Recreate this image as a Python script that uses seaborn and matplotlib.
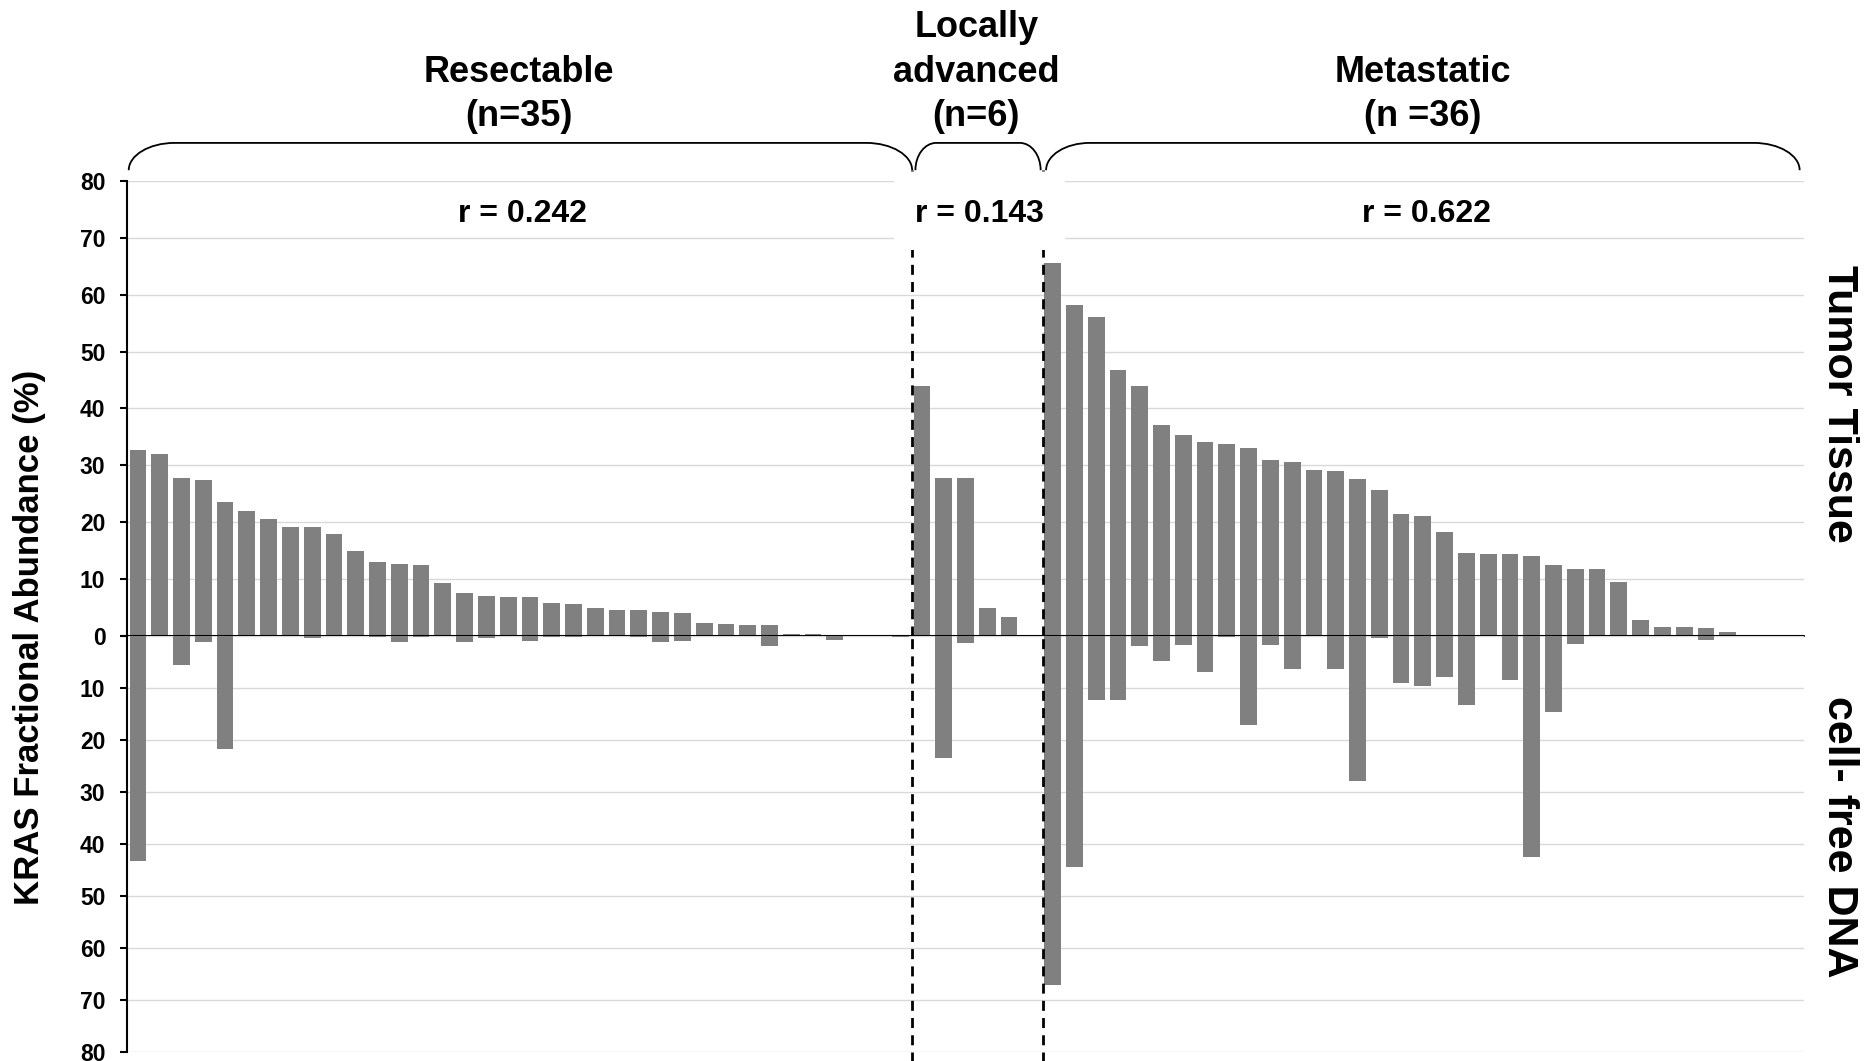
import matplotlib
matplotlib.use('Agg')
import matplotlib.pyplot as plt
from matplotlib import font_manager
from matplotlib.path import Path
from matplotlib.patches import PathPatch
from matplotlib.transforms import blended_transform_factory
import pandas as pd
import seaborn as sns

# KRAS fractional abundance (%) per patient.
# Tumor tissue goes up, cell-free DNA goes down.
resectable_tissue = [32.7, 32.0, 27.7, 27.4, 23.6, 21.9, 20.6, 19.2, 19.2, 17.9,
                     14.9, 13.0, 12.7, 12.4, 9.3, 7.6, 7.0, 6.8, 6.8, 5.7,
                     5.5, 4.9, 4.6, 4.5, 4.2, 4.0, 2.2, 2.1, 1.9, 1.8,
                     0.3, 0.3, 0, 0, 0, 0]
resectable_cfdna = [43.3, 0, 5.6, 1.2, 21.7, 0, 0, 0, 0.4, 0,
                    0, 0.2, 1.2, 0.2, 0, 1.2, 0.4, 0, 1.0, 0.2,
                    0.2, 0, 0, 0.2, 1.2, 0.9, 0, 0, 0, 2.0,
                    0, 0, 0.7, 0, 0, 0.2]

locally_tissue = [44.0, 27.8, 27.8, 4.9, 3.3, 0]
locally_cfdna = [0, 23.5, 1.4, 0, 0, 0]

metastatic_tissue = [65.6, 58.2, 56.1, 46.8, 44.0, 37.1, 35.3, 34.1, 33.7, 33.1,
                     31.0, 30.5, 29.2, 29.0, 27.6, 25.7, 21.4, 21.0, 18.2, 14.6,
                     14.4, 14.4, 14.0, 12.4, 11.7, 11.7, 9.4, 2.7, 1.6, 1.5,
                     1.3, 0.6, 0, 0, 0]
metastatic_cfdna = [67.1, 44.4, 12.4, 12.3, 1.9, 4.8, 1.8, 7.0, 0.1, 17.1,
                    1.8, 6.4, 0, 6.3, 27.9, 0.3, 9.1, 9.7, 7.9, 13.3,
                    0, 8.5, 42.5, 14.6, 1.5, 0, 0, 0, 0, 0,
                    0.7, 0, 0, 0, 0]

group_titles = [['Resectable', '(n=35)'],
                ['Locally', 'advanced', '(n=6)'],
                ['Metastatic', '(n =36)']]
r_labels = ['r = 0.242', 'r = 0.143', 'r = 0.622']
y_ticks = [0, 10, 20, 30, 40, 50, 60, 70, 80]

tissue = resectable_tissue + locally_tissue + metastatic_tissue
cfdna = resectable_cfdna + locally_cfdna + metastatic_cfdna
sizes = [len(resectable_tissue), len(locally_tissue), len(metastatic_tissue)]
df = pd.DataFrame({'slot': range(len(tissue)), 'tissue': tissue, 'cfdna': cfdna})

sns.set_theme(style='white')
names = {f.name for f in font_manager.fontManager.ttflist}
plt.rcParams['font.family'] = ['Liberation Sans', 'DejaVu Sans']
plt.rcParams['font.weight'] = 'bold'
plt.rcParams['text.color'] = 'black'
plt.rcParams['ytick.color'] = 'black'
plt.rcParams['ytick.labelcolor'] = 'black'
narrow = 'Liberation Sans Narrow' in names

W, H = 1872, 1061
fig = plt.figure(figsize=(W / 100, H / 100), dpi=100)
left, right = 127 / W, 1804 / W
ax_top = fig.add_axes([left, 1 - 635.7 / H, right - left, (635.7 - 181) / H])
ax_bot = fig.add_axes([left, 1 - 1051.7 / H, right - left, (1051.7 - 636) / H])

bar_kw = dict(color='#808080', width=0.77, linewidth=0, saturation=1, errorbar=None)
sns.barplot(data=df, x='slot', y='tissue', ax=ax_top, **bar_kw)
sns.barplot(data=df, x='slot', y='cfdna', ax=ax_bot, **bar_kw)

n = len(tissue)
for ax in (ax_top, ax_bot):
    ax.set_xlim(-0.5, n - 0.5)
    ax.set_xlabel('')
    ax.set_ylabel('')
    ax.set_xticks([])
    for s in ('top', 'right', 'bottom'):
        ax.spines[s].set_visible(False)
    ax.spines['left'].set_linewidth(1.5)
    ax.spines['left'].set_color('black')
    ax.set_yticks(y_ticks)
    ax.yaxis.grid(True, color='#d9d9d9', linewidth=1.0)
    ax.set_axisbelow(True)
    ax.tick_params(axis='y', left=True, length=5, width=1.5, color='black',
                   labelcolor='black', pad=10.5, labelsize=16.5)
    for lab in ax.get_yticklabels():
        lab.set_fontweight('bold')

ax_top.set_ylim(0, 80)
ax_bot.set_ylim(80, 0)
ax_bot.set_yticklabels([''] + [str(t) for t in y_ticks[1:]], fontweight='bold')
ax_top.axhline(0, color='black', linewidth=1.5, zorder=4, clip_on=False)

# dashed separators between the stages
bounds = [sizes[0] - 0.5, sizes[0] + sizes[1] - 0.5]
dash = dict(color='black', linewidth=2.0, linestyle=(0, (3.6, 2.6)), clip_on=False, zorder=5)
for b in bounds:
    ax_top.axvline(b + 0.05, ymin=0, ymax=1.024, **dash)
    ax_bot.axvline(b + 0.05, ymin=-0.025, ymax=1, **dash)


def bracket(ax, x0, x1, c0, c1, y_end=81.9, y_top=86.7):
    k = 0.55
    dy = y_top - y_end
    verts = [(x0, y_end), (x0, y_end + k * dy), (x0 + c0 * (1 - k), y_top), (x0 + c0, y_top),
             (x1 - c1, y_top),
             (x1 - c1 * (1 - k), y_top), (x1, y_end + k * dy), (x1, y_end)]
    codes = [Path.MOVETO, Path.CURVE4, Path.CURVE4, Path.CURVE4, Path.LINETO,
             Path.CURVE4, Path.CURVE4, Path.CURVE4]
    ax.add_patch(PathPatch(Path(verts, codes), fill=False, edgecolor='black',
                           linewidth=1.3, clip_on=False))


bracket(ax_top, -0.42, bounds[0] + 0.05, 2.1, 2.1)
bracket(ax_top, bounds[0] + 0.2, bounds[1] - 0.05, 0.95, 0.95)
bracket(ax_top, bounds[1] + 0.2, n - 0.7, 2.0, 2.1)

starts = [0, sizes[0], sizes[0] + sizes[1]]
mids = [s + (z - 1) / 2 for s, z in zip(starts, sizes)]
trans = blended_transform_factory(ax_top.transData, fig.transFigure)
baselines = [37, 82, 126]
for mid, lines in zip(mids, group_titles):
    for line, base in zip(lines, baselines[-len(lines):]):
        ax_top.text(mid, 1 - base / H, line, transform=trans, ha='center',
                    va='baseline', fontsize=26, fontweight='bold')

for i, (mid, lab) in enumerate(zip(mids, r_labels)):
    box = dict(boxstyle='square,pad=0.65', facecolor='white', edgecolor='none') if i == 1 else None
    ax_top.text(mid + 0.15, 1 - 222 / H, lab, transform=trans, ha='center', va='baseline',
                fontsize=23, fontweight='bold', bbox=box, zorder=6)

fig.text(30 / W, 1 - 637 / H, 'KRAS Fractional Abundance (%)', rotation=90,
         ha='center', va='center', fontsize=25, fontweight='bold')

side_family = ['Liberation Sans Narrow', 'Liberation Sans'] if narrow else ['Liberation Sans']
side_size = 36 if narrow else 31
fig.text(1839 / W, 1 - 404 / H, 'Tumor Tissue', rotation=270, ha='center', va='center',
         fontsize=side_size, fontweight='bold', family=side_family)
fig.text(1839 / W, 1 - 837 / H, 'cell- free DNA', rotation=270, ha='center', va='center',
         fontsize=side_size, fontweight='bold', family=side_family)

fig.savefig('out.png', dpi=100, facecolor='white')
